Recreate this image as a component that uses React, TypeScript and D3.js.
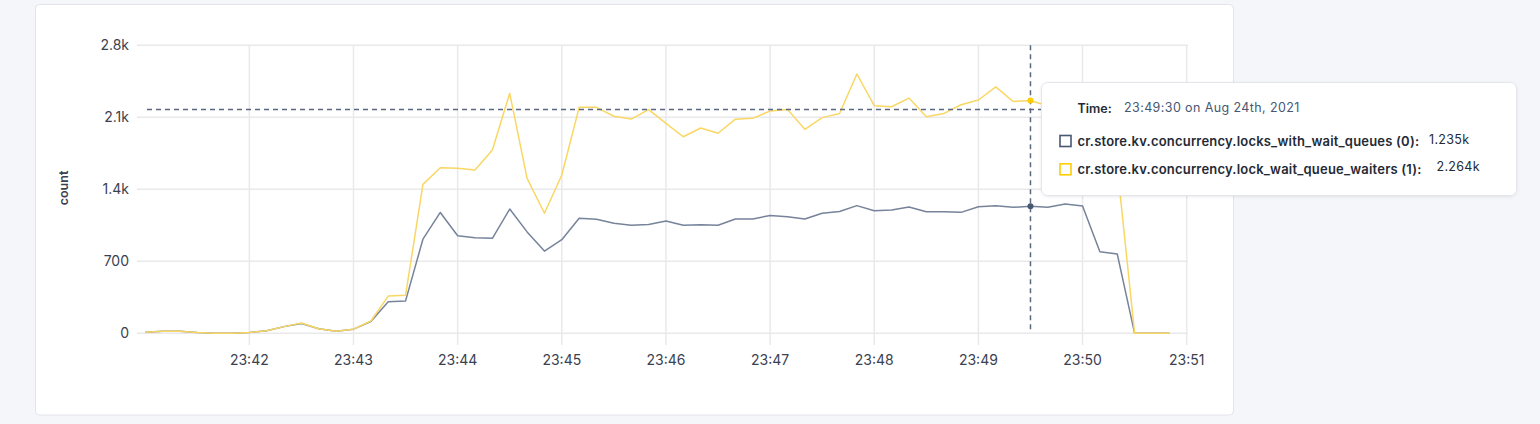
import React from "react";
import * as d3 from "d3";

const DAY = "2021-08-24";
const TIMES = [
  "23:41:00", "23:41:10", "23:41:20", "23:41:30", "23:41:40", "23:41:50",
  "23:42:00", "23:42:10", "23:42:20", "23:42:30", "23:42:40", "23:42:50",
  "23:43:00", "23:43:10", "23:43:20", "23:43:30", "23:43:40", "23:43:50",
  "23:44:00", "23:44:10", "23:44:20", "23:44:30", "23:44:40", "23:44:50",
  "23:45:00", "23:45:10", "23:45:20", "23:45:30", "23:45:40", "23:45:50",
  "23:46:00", "23:46:10", "23:46:20", "23:46:30", "23:46:40", "23:46:50",
  "23:47:00", "23:47:10", "23:47:20", "23:47:30", "23:47:40", "23:47:50",
  "23:48:00", "23:48:10", "23:48:20", "23:48:30", "23:48:40", "23:48:50",
  "23:49:00", "23:49:10", "23:49:20", "23:49:30", "23:49:40", "23:49:50",
  "23:50:00", "23:50:10", "23:50:20", "23:50:30", "23:50:40", "23:50:50",
];

const LOCKS_WITH_WAIT_QUEUES = [
  10, 20, 20, 8, 0, 0, 8, 25, 65, 95, 45, 20,
  40, 115, 307, 315, 915, 1175, 949, 930, 923, 1208, 986, 799,
  910, 1118, 1108, 1069, 1050, 1058, 1092, 1050, 1056, 1050, 1111, 1111,
  1146, 1134, 1111, 1167, 1185, 1241, 1192, 1199, 1228, 1182, 1182, 1176,
  1231, 1241, 1225, 1235, 1225, 1257, 1238, 793, 771, 0, 0, 0,
];

const LOCK_WAIT_QUEUE_WAITERS = [
  10, 20, 20, 8, 0, 0, 8, 25, 65, 100, 45, 20,
  40, 120, 362, 370, 1448, 1610, 1604, 1588, 1782, 2333, 1507, 1167,
  1539, 2197, 2197, 2110, 2083, 2175, 2041, 1911, 1996, 1945, 2082, 2090,
  2161, 2177, 1983, 2097, 2137, 2521, 2213, 2203, 2287, 2106, 2136, 2222,
  2268, 2396, 2254, 2264, 2210, 2280, 2240, 2000, 1620, 0, 0, 0,
];

const SERIES_NAMES = [
  "cr.store.kv.concurrency.locks_with_wait_queues (0):",
  "cr.store.kv.concurrency.lock_wait_queue_waiters (1):",
];
const SERIES_COLORS = ["#475872", "#FFCD02"];
const LINE_COLORS = ["#76839a", "#f9d764"];
const TOOLTIP_VALUES = ["1.235k", "2.264k"];
const TOOLTIP_TIME = "23:49:30 on Aug 24th, 2021";
const HOVER_TIME = "23:49:30";
const HOVER_CURSOR_VALUE = 2175;

const Y_TICKS = [0, 700, 1400, 2100, 2800];
const X_TICKS = ["23:42", "23:43", "23:44", "23:45", "23:46", "23:47", "23:48", "23:49", "23:50", "23:51"];
const X_DOMAIN = ["23:41:00", "23:51:00"];
const Y_LABEL = "count";

const parse = d3.timeParse("%Y-%m-%d %H:%M:%S");
const t = (s: string) => parse(`${DAY} ${s.length === 5 ? s + ":00" : s}`) as Date;

const FONT = "Inter, 'Noto Sans', sans-serif";

export default function App() {
  const W = 1540;
  const H = 424;
  const x = d3.scaleTime().domain(X_DOMAIN.map(t)).range([145.2, 1186.7]);
  const y = d3.scaleLinear().domain([0, 2800]).range([333.3, 45.3]);
  const fmtY = (v: number) => (v < 1000 ? String(v) : d3.format(".1f")(v / 1000) + "k");

  const series = [LOCKS_WITH_WAIT_QUEUES, LOCK_WAIT_QUEUE_WAITERS];
  const line = d3
    .line<number>()
    .x((_, i) => x(t(TIMES[i])))
    .y((d) => y(d));

  const hoverIdx = TIMES.indexOf(HOVER_TIME);
  const hx = x(t(HOVER_TIME));
  const hy = y(HOVER_CURSOR_VALUE);
  const left = 137;
  const right = 1188;

  const tipX = 1041.5;
  const tipY = 82.5;
  const tipW = 475;
  const tipH = 113;

  return (
    <svg
      width={W}
      height={H}
      style={{ position: "absolute", left: 0, top: 0, fontFamily: FONT }}
    >
      <defs>
        <filter id="tipShadow" x="-10%" y="-20%" width="120%" height="150%">
          <feDropShadow dx="0" dy="1" stdDeviation="1.5" floodColor="#000" floodOpacity="0.08" />
        </filter>
      </defs>
      <rect x={0} y={0} width={W} height={H} fill="#f5f6fa" />
      <rect x={35.5} y={4.5} width={1198} height={410.5} rx={4} fill="#fff" stroke="#e2e4ec" />

      {/* horizontal grid */}
      {Y_TICKS.map((v) => (
        <line key={"h" + v} x1={left} x2={right} y1={y(v)} y2={y(v)} stroke="#e9e9ec" strokeWidth={1.5} />
      ))}
      {/* vertical grid */}
      {X_TICKS.map((s) => (
        <line key={"v" + s} x1={x(t(s))} x2={x(t(s))} y1={y(2800)} y2={345} stroke="#e9e9ec" strokeWidth={1.5} />
      ))}

      {/* y tick labels */}
      {Y_TICKS.map((v) => (
        <text key={"yl" + v} x={129} y={y(v)} dy="0.35em" textAnchor="end" fontSize={14} fill="#3a4150">
          {fmtY(v)}
        </text>
      ))}
      {/* x tick labels */}
      {X_TICKS.map((s) => (
        <text key={"xl" + s} x={x(t(s))} y={365} textAnchor="middle" fontSize={14} fill="#3a4150">
          {s}
        </text>
      ))}
      <text
        transform={`translate(68,${188}) rotate(-90)`}
        textAnchor="middle"
        fontSize={12.5}
        fontWeight={600}
        fill="#3a4150"
      >
        {Y_LABEL}
      </text>

      {/* series */}
      {series.map((s, k) => (
        <path
          key={"s" + k}
          d={line(s) || ""}
          fill="none"
          stroke={LINE_COLORS[k]}
          strokeWidth={1.5}
          strokeLinejoin="round"
        />
      ))}

      {/* crosshair */}
      <line x1={147} x2={right} y1={hy} y2={hy} stroke="#5a6981" strokeWidth={1.5} strokeDasharray="5,4" />
      <line x1={hx} x2={hx} y1={y(2800)} y2={y(0)} stroke="#5a6981" strokeWidth={1.5} strokeDasharray="5,4" />
      {series.map((s, k) => (
        <circle key={"d" + k} cx={hx} cy={y(s[hoverIdx])} r={3} fill={SERIES_COLORS[k]} />
      ))}

      {/* tooltip */}
      <g fontFamily={FONT}>
        <rect
          x={tipX}
          y={tipY}
          width={tipW}
          height={tipH}
          rx={6}
          fill="#fff"
          stroke="#e4e6ec"
          filter="url(#tipShadow)"
        />
        <text x={1077.5} y={113} fontSize={12.5} fontWeight={600} fill="#242a35">
          Time:
        </text>
        <text x={1124} y={112} fontSize={12.5} fill="#475872" letterSpacing={0.4}>
          {TOOLTIP_TIME}
        </text>
        {SERIES_NAMES.map((n, k) => (
          <g key={"tt" + k}>
            <rect
              x={1060}
              y={135.5 + k * 28.3}
              width={11}
              height={11}
              fill="#fff"
              stroke={SERIES_COLORS[k]}
              strokeWidth={1.6}
            />
            <text x={1077.5} y={145.5 + k * 28.3} fontSize={13} fontWeight={600} fill="#242a35" letterSpacing={0.2}>
              {n}
            </text>
            <text x={1429 + k * 7.5} y={143.5 + k * 27} fontSize={12.5} fill="#242a35" letterSpacing={0.3}>
              {TOOLTIP_VALUES[k]}
            </text>
          </g>
        ))}
      </g>
    </svg>
  );
}
